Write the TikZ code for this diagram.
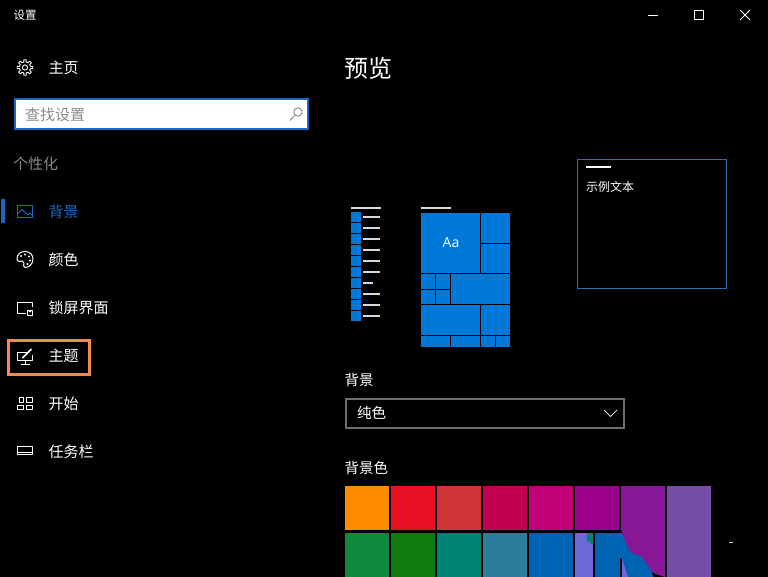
\documentclass[tikz,border=0pt]{standalone}
\usepackage{fontspec}
\setmainfont{Noto Sans CJK SC}
\newfontfamily\latinfont{Open Sans}
\definecolor{accent}{HTML}{0078D7}
\definecolor{navblue}{HTML}{1C68BE}
\definecolor{framered}{HTML}{F08C50}
\definecolor{greytext}{HTML}{8A8A8A}
\definecolor{boxgrey}{HTML}{6E6E6E}
\definecolor{listline}{HTML}{D8D8D8}
\definecolor{windowblue}{HTML}{2F6DB5}
\begin{document}
\begin{tikzpicture}[x=1pt,y=-1pt,
	menulabel/.style={anchor=west, inner sep=0pt, text=white, font=\fontsize{15}{16}\selectfont},
	headlabel/.style={anchor=west, inner sep=0pt, text=white, font=\fontsize{14.5}{16}\selectfont},
	icon/.style={draw=white, line width=1pt, line join=round},
	tile/.style={fill=accent},
	]
	\fill[black] (0,0) rectangle (768,577);
	\useasboundingbox (0,0) rectangle (768,577);
	%Nodes
	\node[anchor=west, inner sep=0pt, text=white, font=\fontsize{11.5}{12}\selectfont] (title) at (13.5,15) {设置};
	\node[menulabel] (home) at (48.5,68) {主页};
	\node[anchor=west, draw=navblue, line width=2pt, fill=white, minimum width=293pt, minimum height=30pt, inner sep=0pt] (search) at (14,114.5) {};
	\node[anchor=west, inner sep=0pt, text=boxgrey!80, font=\fontsize{15}{16}\selectfont] (searchtext) at (25,115) {查找设置};
	\node[anchor=west, inner sep=0pt, text=greytext, font=\fontsize{15}{16}\selectfont] (group) at (13,164) {个性化};
	\node[menulabel, text=navblue] (background) at (48.5,212) {背景};
	\node[menulabel] (colors) at (48.5,260) {颜色};
	\node[menulabel] (lock) at (48.5,308) {锁屏界面};
	\node[menulabel] (theme) at (48.5,356) {主题};
	\node[menulabel] (start) at (48.5,404) {开始};
	\node[menulabel] (taskbar) at (48.5,452) {任务栏};
	\node[anchor=west, inner sep=0pt, text=white, font=\fontsize{24}{26}\selectfont] (preview) at (344.5,68.5) {预览};
	\node[headlabel] (bghead) at (344.5,380) {背景};
	\node[anchor=west, draw=boxgrey, line width=2pt, minimum width=278pt, minimum height=29pt, inner sep=0pt] (dropdown) at (345,413) {};
	\node[headlabel] (solid) at (357,413) {纯色};
	\node[headlabel] (colorhead) at (344.5,468) {背景色};

	% left menu
	\fill[navblue] (1,199) rectangle (5,223);
	\node[draw=framered, line width=3pt, minimum width=81pt, minimum height=34pt, inner sep=0pt] (themebox) at (49,357.5) {};

	% gear
	\begin{scope}[shift={(25,67.5)}]
		\foreach \a in {0,45,...,315}
			\draw[icon, line width=0.9pt] (\a-22.5:5.6) -- (\a-12:5.6) -- (\a-9:7.8) -- (\a+9:7.8) -- (\a+12:5.6) -- (\a+22.5:5.6);
		\draw[icon, line width=0.9pt] (0,0) circle (2.6);
	\end{scope}
	% search glass
	\draw[boxgrey!80, line width=0.9pt] (298,112) circle (4.2);
	\draw[boxgrey!80, line width=0.9pt] (295,115) -- (290,120.5);
	% picture
	\draw[navblue, line width=1pt] (17.5,205.5) rectangle (32.5,217.5);
	\draw[navblue, line width=1pt] (17.5,214) -- (22,209.5) -- (28,215) -- (30,213) -- (32.5,215.5);
	% palette
	\draw[icon] (25,251.5) .. controls (30,251.5) and (33,255) .. (33,259) .. controls (33,264) and (29,267.5) .. (25,267.5) .. controls (23,267.5) and (23.5,264.5) .. (24,263) .. controls (24,260.5) and (21,260.5) .. (19.5,261.5) .. controls (17.5,262) and (17,259.5) .. (17,258.5) .. controls (17,254) and (21,251.5) .. (25,251.5) -- cycle;
	\foreach \p in {(21,256),(25,254.5),(29,256.5),(30,260.5),(27.5,264)} \fill[white] \p circle (1.1);
	% lock screen
	\draw[icon] (26,313.5) -- (17.5,313.5) -- (17.5,302.5) -- (32.5,302.5) -- (32.5,307);
	\draw[icon] (27.5,310.5) rectangle (32.5,315.5);
	\draw[icon, line width=0.9pt] (28.5,310.5) arc[start angle=180, end angle=0, radius=1.5];
	% theme
	\draw[icon] (27,352) -- (17.5,352) -- (17.5,360.5) -- (32.5,360.5) -- (32.5,355);
	\draw[icon] (25,360.5) -- (25,364) (20.5,364.5) -- (29.5,364.5);
	\draw[white, line width=1.6pt] (22.5,358) -- (31.5,349);
	% start
	\draw[icon] (19.5,397.5) rectangle (23.5,402) (26.5,397.5) rectangle (32.5,402);
	\draw[icon] (17.5,405.5) rectangle (23.5,409.5) (26.5,405.5) rectangle (32.5,409.5);
	% taskbar
	\draw[icon] (17.5,446.5) rectangle (32.5,454.5) (17.5,452) -- (32.5,452);

	% window controls
	\draw[white, line width=1pt] (648,15.5) -- (658,15.5);
	\draw[white, line width=1pt] (694.5,10.5) rectangle (703.5,19.5);
	\draw[white, line width=1pt] (740,10) -- (750,20) (750,10) -- (740,20);

	% narrow start preview
	\draw[listline, line width=1.6pt] (351,208) -- (381,208);
	\foreach \k in {0,...,9} {
		\fill[tile] (351,212+11*\k) rectangle (361,222+11*\k);
		\ifnum\k=6
			\draw[listline, line width=1.6pt] (363,217+11*\k) -- (373,217+11*\k);
		\else
			\draw[listline, line width=1.6pt] (363,217+11*\k) -- (380,217+11*\k);
		\fi
	}
	% tile preview
	\draw[listline, line width=1.6pt] (421,208) -- (451,208);
	\foreach \xa/\ya/\xb/\yb in {421/213/480/273, 481/213/510/243, 481/244/510/273,
		421/274/435/289, 436/274/450/289, 421/290/435/304, 436/290/450/304, 451/274/510/304,
		421/305/480/335, 481/305/510/335,
		421/336/450/347, 451/336/480/347, 481/336/495/347, 496/336/510/347}
		\fill[tile] (\xa,\ya) rectangle (\xb,\yb);
	\node[inner sep=0pt, text=white, font=\latinfont\fontsize{14}{15}\selectfont] (sample) at (451,243) {Aa};

	% window preview
	\node[anchor=north west, draw=windowblue, line width=1pt, minimum width=149pt, minimum height=129pt, inner sep=0pt] (window) at (577,159) {};
	\draw[white, line width=1.6pt] (586,167) -- (611,167);
	\node[anchor=west, inner sep=0pt, text=white, font=\fontsize{12}{13}\selectfont] (windowtext) at (586,187) {示例文本};

	% dropdown arrow
	\draw[white!85!black, line width=1pt] (604,410) -- (610.5,416.5) -- (617,410);

	% swatches
	\foreach \c [count=\i from 0] in {FF8C00,E81123,D13438,C30052,BF0077,9A0089,881798} {
		\definecolor{swatch}{HTML}{\c}
		\fill[swatch] (345+46*\i,486) rectangle (389+46*\i,530);
	}
	\definecolor{swatch}{HTML}{744DA9}
	\fill[swatch] (667,486) rectangle (711,577);
	\foreach \c [count=\i from 0] in {10893E,107C10,008272,2D7D9A,0063B1} {
		\definecolor{swatch}{HTML}{\c}
		\fill[swatch] (345+46*\i,533) rectangle (389+46*\i,577);
	}
	\definecolor{swatch}{HTML}{6B69D6}
	\fill[swatch] (575,533) rectangle (593,577);
	\fill[swatch] (622,556) rectangle (632,577);
	\definecolor{swatch}{HTML}{0063B1}
	\fill[swatch] (595,533) -- (622,533) -- (631,550) -- (650,562) -- (653,577) -- (628,577) -- (622,558) -- (620,558) -- (620,577) -- (595,577) -- cycle;
	\definecolor{swatch}{HTML}{008272}
	\fill[swatch] (587,533) -- (593,533) -- (593,545) -- (587,540) -- cycle;
	\definecolor{swatch}{HTML}{881798}
	\fill[swatch] (621,530) -- (665,530) -- (665,577) -- (653,573) -- (642,557) -- (630,552) -- cycle;
	% specks
	\fill[white!80!black] (729,541.5) rectangle (733,542.5);
\end{tikzpicture}
\end{document}
